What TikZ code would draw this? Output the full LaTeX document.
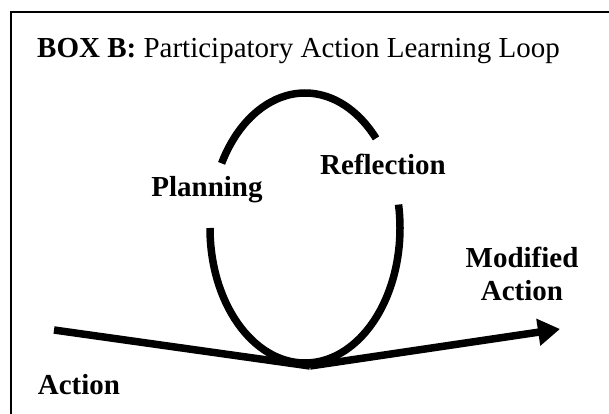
\documentclass[tikz,border=0pt]{standalone}
\usepackage{fontspec}
\setmainfont{Liberation Serif}
\usepackage{tikz}
\usetikzlibrary{arrows.meta}
\tikzset{
	loopline/.style={line width=7.5pt, line cap=butt},
	flow/.style={line width=7.5pt, line cap=butt},
	flowarrow/.style={flow, -{Triangle[length=22pt, width=26pt]}},
	lbl/.style={font=\bfseries\fontsize{29}{33}\selectfont, inner sep=0pt},
}

\begin{document}
\begin{tikzpicture}[x=1pt, y=1pt]
	\useasboundingbox (0,0) rectangle (609,414);

	% box frame (only top and left edge show)
	\draw[line width=1.5pt] (609,402) -- (11,402) -- (11,0);
	\node[anchor=base west, inner sep=0pt, font=\fontsize{29}{33}\selectfont] (title) at (37,356) {\textbf{BOX B:} Participatory Action Learning Loop};

	% the loop, broken where the labels sit
	\draw[loopline] (305,186) ++(41.6:95 and 135) arc[start angle=41.6, end angle=151.4, x radius=95, y radius=135];
	\draw[loopline] (305,186) ++(180:95 and 135) arc[start angle=180, end angle=370, x radius=95, y radius=135];

	\node[lbl, anchor=base] (planning) at (207,217) {Planning};
	\node[lbl, anchor=base] (reflection) at (383,239) {Reflection};

	% action line in and out of the loop
	\coordinate (start) at (54,84);
	\coordinate (low) at (310,48);
	\coordinate (tip) at (560,85);
	\draw[flow] (start) -- (low);
	\draw[flowarrow] (low) -- (tip);

	\node[lbl, anchor=base] (action) at (79,19) {Action};
	\node[lbl, align=center] (modified) at (522,140) {Modified\\Action};
\end{tikzpicture}
\end{document}
